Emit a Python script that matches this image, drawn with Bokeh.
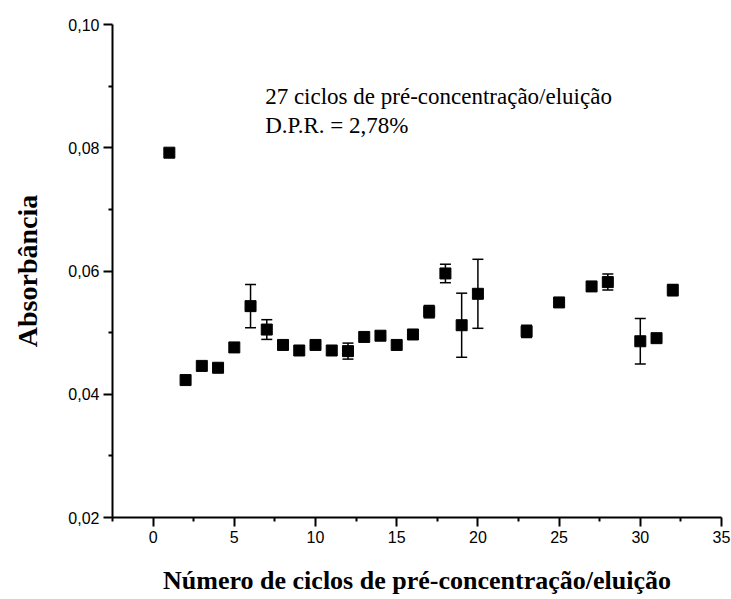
from bokeh.plotting import figure
from bokeh.models import (ColumnDataSource, Whisker, TeeHead, FixedTicker,
                          CustomJSTickFormatter, Label, Range1d)
from bokeh.embed import file_html
from bokeh.resources import INLINE

# Absorbance measured over successive pre-concentration/elution cycles
ciclo = [1, 2, 3, 4, 5, 6, 7, 8, 9, 10, 11, 12, 13, 14, 15, 16, 17, 18, 19, 20,
         23, 25, 27, 28, 30, 31, 32]
absorbancia = [0.0792, 0.0423, 0.0446, 0.0443, 0.0476, 0.0543, 0.0505, 0.0480,
               0.0471, 0.0480, 0.0471, 0.0470, 0.0493, 0.0495, 0.0480, 0.0497,
               0.0534, 0.0596, 0.0512, 0.0563, 0.0502, 0.0549, 0.0575, 0.0582,
               0.0486, 0.0491, 0.0569]
desvio = [0, 0, 0, 0, 0, 0.0035, 0.0016, 0, 0, 0, 0, 0.0013, 0, 0, 0, 0,
          0.0010, 0.0015, 0.0052, 0.0056, 0.0010, 0, 0, 0.0013, 0.0037, 0, 0.0009]

x_ticks = [0, 5, 10, 15, 20, 25, 30, 35]
y_ticks = [0.02, 0.04, 0.06, 0.08, 0.10]

nota_linha1 = "27 ciclos de pré-concentração/eluição"
nota_linha2 = "D.P.R. = 2,78%"

SERIF = "Liberation Serif"
SANS = "Liberation Sans"

p = figure(width=731, height=599, output_backend="svg", toolbar_location=None,
           x_range=Range1d(-2.5, 35), y_range=Range1d(0.02, 0.10),
           min_border_left=112, min_border_right=10,
           min_border_top=24, min_border_bottom=82)
p.outline_line_color = None
p.grid.visible = False
p.background_fill_color = "white"
p.border_fill_color = "white"

# axes
p.xaxis.ticker = FixedTicker(ticks=x_ticks, minor_ticks=[v + 2.5 for v in range(-5, 35, 5)])
p.yaxis.ticker = FixedTicker(ticks=y_ticks, minor_ticks=[0.03, 0.05, 0.07, 0.09])
p.yaxis.formatter = CustomJSTickFormatter(code="return tick.toFixed(2).replace('.', ',');")
for ax in (p.xaxis, p.yaxis):
    ax.axis_line_width = 2
    ax.axis_line_color = "black"
    ax.major_tick_line_width = 2
    ax.minor_tick_line_width = 2
    ax.major_tick_in = 0
    ax.major_tick_out = 9
    ax.minor_tick_in = 0
    ax.minor_tick_out = 4
    ax.major_label_text_font = SANS
    ax.major_label_text_font_size = "16px"
    ax.major_label_text_color = "black"
    ax.axis_label_text_font = SERIF
    ax.axis_label_text_font_style = "bold"
    ax.axis_label_text_color = "black"
    ax.major_label_standoff = 4

p.xaxis.axis_label = "Número de ciclos de pré-concentração/eluição"
p.yaxis.axis_label = "Absorbância"
p.xaxis.axis_label_text_font_size = "26px"
p.yaxis.axis_label_text_font_size = "28px"
p.xaxis.axis_label_standoff = 20
p.yaxis.axis_label_standoff = 22

# error bars
com_erro = [i for i, d in enumerate(desvio) if d > 0]
src_err = ColumnDataSource(data=dict(
    x=[ciclo[i] for i in com_erro],
    lower=[absorbancia[i] - desvio[i] for i in com_erro],
    upper=[absorbancia[i] + desvio[i] for i in com_erro],
))
w = Whisker(source=src_err, base="x", lower="lower", upper="upper",
            line_color="black", line_width=1.5,
            upper_head=TeeHead(size=11, line_color="black", line_width=1.5),
            lower_head=TeeHead(size=11, line_color="black", line_width=1.5))
p.add_layout(w)

# data points
src = ColumnDataSource(data=dict(x=ciclo, y=absorbancia))
p.scatter("x", "y", source=src, marker="square", size=11,
          fill_color="black", line_color="black")

# annotation
for txt, yv in ((nota_linha1, 0.0903), (nota_linha2, 0.0857)):
    p.add_layout(Label(x=6.9, y=yv, text=txt, text_baseline="top",
                       text_font=SERIF, text_font_size="23px", text_color="black"))

open("out.html", "w").write(file_html(p, INLINE))
